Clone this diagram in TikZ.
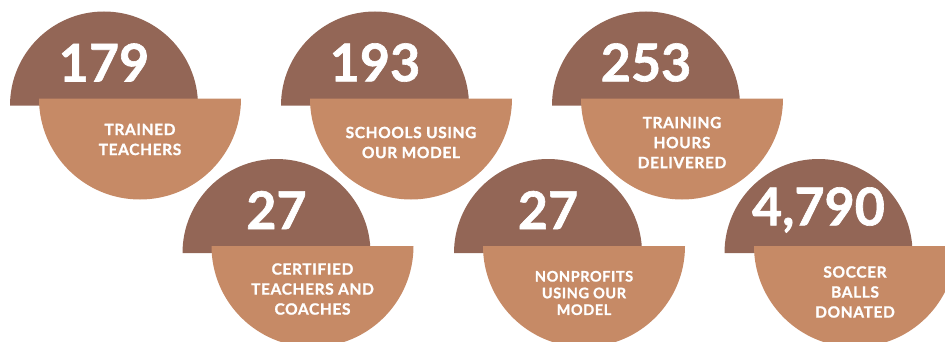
\documentclass[tikz,border=0pt]{standalone}
\usepackage{fontspec}
\setmainfont{Lato}[BoldFeatures={FakeBold=1.2}]
\usetikzlibrary{positioning}
\definecolor{topbrown}{RGB}{147,102,86}
\definecolor{lowtan}{RGB}{198,138,102}
\tikzset{
  tophalf/.style={fill=topbrown}, % upper half disc
  lowhalf/.style={fill=lowtan},   % lower half disc, shifted right
  bignum/.style={text=white, inner sep=0pt, font=\fontsize{52}{52}\selectfont\bfseries},
  caption/.style={text=white, inner sep=0pt, align=center, font=\fontsize{15.5}{20}\selectfont\bfseries\addfontfeatures{LetterSpace=4}},
}

\begin{document}
\begin{tikzpicture}[x=1pt,y=1pt]
   \useasboundingbox (0,0) rectangle (945,341);
   % centres of the two halves of each badge
   \coordinate (t1) at (104,235.5);   \coordinate (b1) at (140,242.5);
   \coordinate (t2) at (375,235.5);   \coordinate (b2) at (411,242.5);
   \coordinate (t3) at (646,235.5);   \coordinate (b3) at (682,242.5);
   \coordinate (t4) at (276.5,88);    \coordinate (b4) at (312.5,95);
   \coordinate (t5) at (548,88);      \coordinate (b5) at (584,95);
   \coordinate (t6) at (818.5,88);    \coordinate (b6) at (855,95);
   \foreach \i in {1,...,6}{
     \fill[tophalf] ([xshift=-94pt]t\i) arc[start angle=180, end angle=0, radius=94] -- cycle;
     \fill[lowhalf] ([xshift=-101pt]b\i) arc[start angle=180, end angle=360, radius=101] -- cycle;
   }
   \node[bignum] (n1) at ([yshift=43pt]t1) {179};
   \node[bignum] (n2) at ([yshift=43pt]t2) {193};
   \node[bignum] (n3) at ([yshift=43pt]t3) {253};
   \node[bignum] (n4) at ([yshift=43pt]t4) {27};
   \node[bignum] (n5) at ([yshift=43pt]t5) {27};
   \node[bignum] (n6) at ([yshift=43pt]t6) {4,790};
   \node[caption] (l1) at ([yshift=-41pt]b1) {TRAINED\\TEACHERS};
   \node[caption] (l2) at ([yshift=-44pt]b2) {SCHOOLS USING\\OUR MODEL};
   \node[caption] (l3) at ([yshift=-44pt]b3) {TRAINING\\HOURS\\DELIVERED};
   \node[caption] (l4) at ([yshift=-43pt]b4) {CERTIFIED\\TEACHERS AND\\COACHES};
   \node[caption, font=\fontsize{14.5}{16.7}\selectfont\bfseries\addfontfeatures{LetterSpace=4}] (l5) at ([yshift=-47pt]b5) {NONPROFITS\\USING OUR\\MODEL};
   \node[caption] (l6) at ([yshift=-46pt]b6) {SOCCER\\BALLS\\DONATED};
\end{tikzpicture}
\end{document}
